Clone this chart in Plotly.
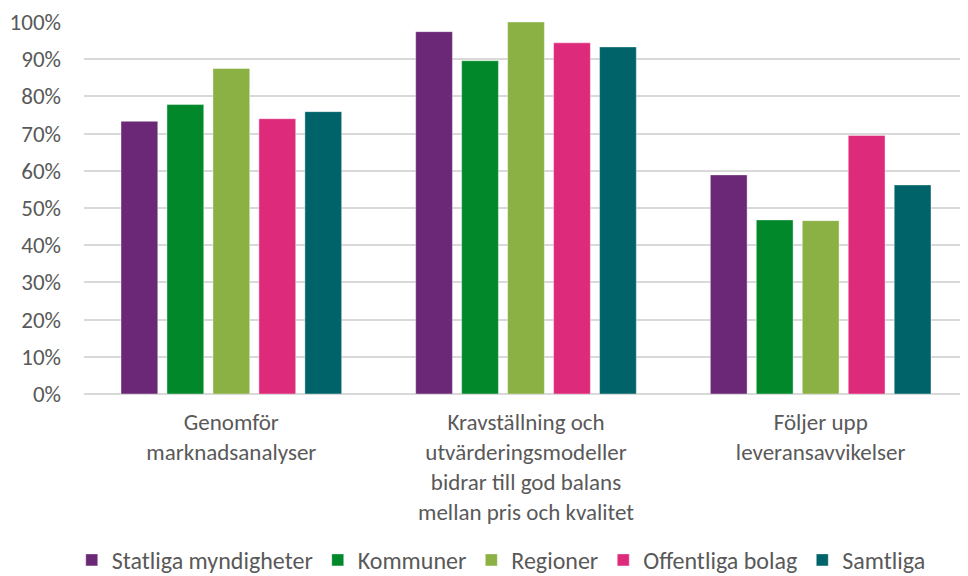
import plotly.graph_objects as go

categories = ["Genomför<br>marknadsanalyser",
              "Kravställning och<br>utvärderingsmodeller<br>bidrar till god balans<br>mellan pris och kvalitet",
              "Följer upp<br>leveransavvikelser"]
series_names = ["Statliga myndigheter", "Kommuner", "Regioner", "Offentliga bolag", "Samtliga"]
statliga = [0.733, 0.974, 0.589]
kommuner = [0.778, 0.896, 0.468]
regioner = [0.875, 1.000, 0.466]
offentliga = [0.740, 0.944, 0.695]
samtliga = [0.759, 0.933, 0.562]
colors = ["#6B2876", "#00882B", "#8BB043", "#DE2A7A", "#006369"]
tick_vals = [0, 0.1, 0.2, 0.3, 0.4, 0.5, 0.6, 0.7, 0.8, 0.9, 1.0]
tick_text = ["0%", "10%", "20%", "30%", "40%", "50%", "60%", "70%", "80%", "90%", "100%"]

font_family = "Carlito, Lato, 'Open Sans', sans-serif"

fig = go.Figure()
for name, vals, col in zip(series_names, [statliga, kommuner, regioner, offentliga, samtliga], colors):
    fig.add_trace(go.Bar(x=categories, y=vals, name=name, marker_color=col,
                         marker_line=dict(color="rgba(255,255,255,0.4)", width=1)))

fig.update_layout(
    width=968, height=576,
    barmode="group", bargap=0.22, bargroupgap=0.2,
    plot_bgcolor="white", paper_bgcolor="white",
    margin=dict(l=76, r=8, t=14, b=190, autoexpand=False),
    font=dict(family=font_family, size=22, color="#595959"),
    legend=dict(orientation="h", x=0.472, xanchor="center", y=-0.447, yanchor="middle",
                font=dict(size=24, color="#595959"), itemwidth=30, traceorder="normal"),
    showlegend=True,
)
fig.update_yaxes(range=[0, 1.0], tickvals=tick_vals, ticktext=tick_text,
                 showgrid=True, gridcolor="#D9D9D9", gridwidth=1.5,
                 zeroline=True, zerolinecolor="#D9D9D9", zerolinewidth=1.5,
                 ticklabelstandoff=22, showline=False, automargin=False,
                 tickfont=dict(size=23, color="#595959"))
fig.update_xaxes(showgrid=False, showline=False, ticks="", automargin=False,
                 ticklabelstandoff=12,
                 tickfont=dict(size=23, color="#595959"))

fig.write_html("out.html")
